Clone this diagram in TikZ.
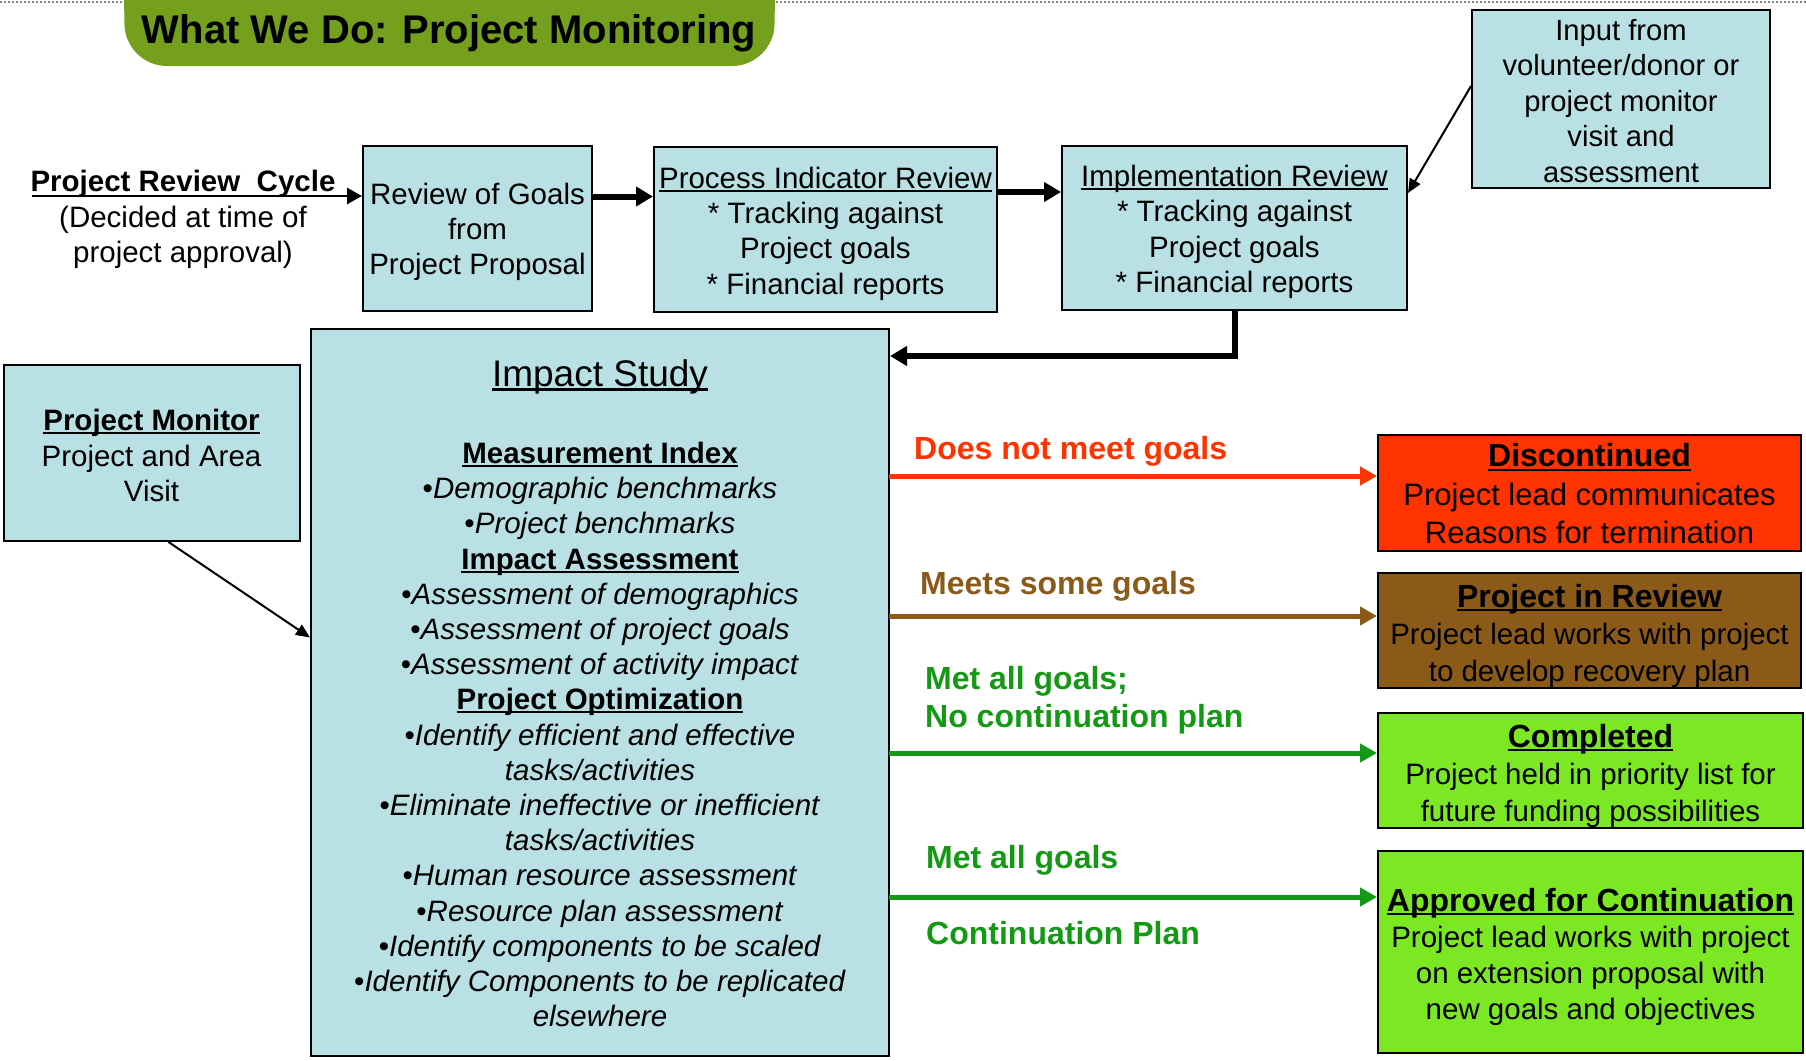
\documentclass[tikz,border=0pt]{standalone}
\usepackage{fontspec}
\setmainfont{Liberation Sans}
\usetikzlibrary{arrows.meta}
\definecolor{boxblue}{RGB}{185,224,228}
\definecolor{titlegreen}{RGB}{116,160,30}
\definecolor{redx}{RGB}{255,51,0}
\definecolor{brownx}{RGB}{139,90,24}
\definecolor{lightgreenx}{RGB}{124,232,36}
\definecolor{darkgreenx}{RGB}{20,153,20}
\newsavebox\ulbx
\newcommand{\myul}[1]{\sbox\ulbx{#1}\rlap{\rule[-0.12em]{\wd\ulbx}{0.07em}}\usebox\ulbx}
\newcommand{\hd}[1]{{\fontsize{32}{38}\selectfont\bfseries\myul{#1}}}
\tikzset{
  bluebox/.style={draw=black, line width=2pt, fill=boxblue, inner sep=0pt},
  outbox/.style={draw=black, line width=2pt, inner sep=0pt},
  txt/.style={font=\fontsize{29.5}{35.3}\selectfont, align=center, inner sep=0pt},
  rtxt/.style={font=\fontsize{29.5}{37}\selectfont, align=center, inner sep=0pt},
  lbl/.style={font=\fontsize{32}{38}\selectfont\bfseries, align=left, inner sep=0pt, anchor=west},
  thickarrow/.style={line width=6pt, -{Triangle[length=17pt,width=19pt]}},
  thinarrow/.style={line width=2pt, -{Triangle[length=14pt,width=12pt]}},
  colarrow/.style={line width=5pt, -{Triangle[length=17pt,width=18pt]}}
}
\begin{document}
\begin{tikzpicture}[x=1pt,y=-1pt]
\useasboundingbox (0,0) rectangle (1806,1060);
% dotted top line and title banner
\draw[gray, line width=2pt, dotted] (0,1.5) -- (1806,1.5);
\fill[titlegreen, rounded corners=42pt] (123,-80) -- (125,66) -- (774,66) -- (776,-80) -- cycle;
\node[font=\fontsize{40}{46}\selectfont\bfseries, inner sep=0pt] (title) at (449,33) {What We Do: Project Monitoring};

% project review cycle
\node[txt] (prc) at (183,219.5) {\textbf{Project Review~ Cycle}\\(Decided at time of\\project approval)};
\coordinate (ulstart) at (32,196);

% top boxes
\node[bluebox, minimum width=229pt, minimum height=165pt] (box1) at (477.5,228.5) {};
\node[txt] (box1t) at ([yshift=-3.5pt]box1.center) {Review of Goals\\from\\Project Proposal};
\node[bluebox, minimum width=343pt, minimum height=165pt] (box2) at (825.5,229.5) {};
\node[txt] (box2t) at ([yshift=-4pt]box2.center) {\myul{Process Indicator Review}\\* Tracking against\\Project goals\\* Financial reports};
\node[bluebox, minimum width=345pt, minimum height=164pt] (box3) at (1234.5,228) {};
\node[txt] (box3t) at ([yshift=-4pt]box3.center) {\myul{Implementation Review}\\* Tracking against\\Project goals\\* Financial reports};
\node[bluebox, minimum width=298pt, minimum height=178pt] (input) at (1621,99) {};
\node[txt, font=\fontsize{29.2}{35.5}\selectfont] (inputt) at ([yshift=-2pt]input.center) {Input from\\volunteer/donor or\\project monitor\\visit and\\assessment};

% project monitor
\node[bluebox, minimum width=296pt, minimum height=176pt] (pm) at (151.5,453) {};
\node[txt] (pmt) at ([yshift=-2.5pt]pm.center) {\textbf{\myul{Project Monitor}}\\Project and Area\\Visit};

% impact study
\node[bluebox, minimum width=578pt, minimum height=727pt] (impact) at (600,692.5) {};
\node[txt, font=\fontsize{37}{42}\selectfont] (impt) at (600,377) {\myul{Impact Study}};
\node[txt, font=\fontsize{29.5}{35.2}\selectfont] (impb) at (600,734.5) {%
\textbf{\myul{Measurement Index}}\\
•\textit{Demographic benchmarks}\\
•\textit{Project benchmarks}\\
\textbf{\myul{Impact Assessment}}\\
•\textit{Assessment of demographics}\\
•\textit{Assessment of project goals}\\
•\textit{Assessment of activity impact}\\
\textbf{\myul{Project Optimization}}\\
•\textit{Identify efficient and effective}\\
\textit{tasks/activities}\\
•\textit{Eliminate ineffective or inefficient}\\
\textit{tasks/activities}\\
•\textit{Human resource assessment}\\
•\textit{Resource plan assessment}\\
•\textit{Identify components to be scaled}\\
•\textit{Identify Components to be replicated}\\
\textit{elsewhere}};

% outcome boxes
\node[outbox, fill=redx, minimum width=423pt, minimum height=116pt] (disc) at (1589.5,493) {};
\node[rtxt, font=\fontsize{31}{38.5}\selectfont] (disct) at (1589.5,494) {\hd{Discontinued}\\Project lead communicates\\Reasons for termination};
\node[outbox, fill=brownx, minimum width=423pt, minimum height=115pt] (rev) at (1589.5,630.5) {};
\node[rtxt] (revt) at (1589.5,636) {\hd{Project in Review}\\Project lead works with project\\to develop recovery plan};
\node[outbox, fill=lightgreenx, minimum width=425pt, minimum height=115pt] (comp) at (1590.5,770.5) {};
\node[rtxt] (compt) at (1590.5,776) {\hd{Completed}\\Project held in priority list for\\future funding possibilities};
\node[outbox, fill=lightgreenx, minimum width=425pt, minimum height=202pt] (appr) at (1590.5,952) {};
\node[rtxt, font=\fontsize{29.5}{36}\selectfont] (apprt) at (1590.5,957) {\hd{Approved for Continuation}\\Project lead works with project\\on extension proposal with\\new goals and objectives};

% labels
\node[lbl, text=redx] (l1) at (914,451) {Does not meet goals};
\node[lbl, text=brownx] (l2) at (920,586) {Meets some goals};
\node[lbl, text=darkgreenx] (l3) at (925,700) {Met all goals;\\No continuation plan};
\node[lbl, text=darkgreenx] (l4) at (926,860) {Met all goals};
\node[lbl, text=darkgreenx] (l5) at (926,933) {Continuation Plan};

% connectors
\draw[line width=2.5pt, -{Triangle[length=15pt,width=16pt]}] (ulstart) -- (ulstart -| box1.west);
\draw[thickarrow] ([yshift=32pt]box1.east) -- ([yshift=32pt]box1.east -| box2.west);
\draw[thickarrow] ([yshift=37.5pt]box2.east) -- ([yshift=37.5pt]box2.east -| box3.west);
\draw[thinarrow] ([yshift=13pt]input.west) -- ([yshift=35pt]box3.east);
\draw[line width=6pt, -{Triangle[length=17pt,width=19pt]}] (box3.south) |- ([yshift=-28pt]impact.north east);
\draw[thinarrow] ([xshift=17pt]pm.south) -- ([yshift=55pt]impact.west);

\coordinate (o1) at (889,476);
\coordinate (o2) at (889,616);
\coordinate (o3) at (889,753);
\coordinate (o4) at (889,897);
\draw[colarrow, redx] (o1) -- (o1 -| disc.west);
\draw[colarrow, brownx] (o2) -- (o2 -| rev.west);
\draw[colarrow, darkgreenx] (o3) -- (o3 -| comp.west);
\draw[colarrow, darkgreenx] (o4) -- (o4 -| appr.west);
\end{tikzpicture}
\end{document}
